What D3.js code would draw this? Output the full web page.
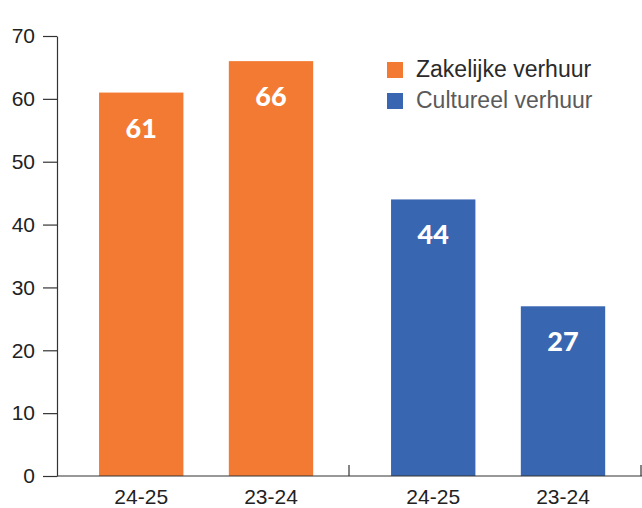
<!DOCTYPE html>
<html>
<head>
<meta charset="utf-8">
<script src="https://cdn.jsdelivr.net/npm/d3@7"></script>
<style>
  body { margin: 0; background: #fff; }
  text { font-family: "Liberation Sans", Arial, sans-serif; }
</style>
</head>
<body>
<div class="canva"></div>
<script>
const series = ["Zakelijke verhuur", "Cultureel verhuur"];
const periods = ["24-25", "23-24"];
const zakelijk = [61, 66];
const cultureel = [44, 27];
const colors = ["#F37A32", "#3966B1"];
const yTicks = [0, 10, 20, 30, 40, 50, 60, 70];

const values = [zakelijk, cultureel];

const svg = d3.select(".canva").append("svg")
              .attr("width", 642)
              .attr("height", 508);

const margin = {top: 36, right: 1, bottom: 32, left: 57};
const graphWidth = 642 - margin.left - margin.right;
const graphHeight = 508 - margin.top - margin.bottom;

const g = svg.append("g")
             .attr("transform", `translate(${margin.left},${margin.top})`);

const y = d3.scaleLinear()
            .domain([0, 70])
            .range([graphHeight, 0]);

const xGroup = d3.scaleBand()
                 .domain(series)
                 .range([0, graphWidth])
                 .padding(0);

const xInner = d3.scaleBand()
                 .domain(periods)
                 .range([0, xGroup.bandwidth()])
                 .paddingInner(0.35)
                 .paddingOuter(0.3)
                 .align(0.54);

// bars
series.forEach((s, si) => {
  const grp = g.append("g").attr("transform", `translate(${xGroup(s)},0)`);
  grp.selectAll("rect")
     .data(values[si])
     .enter()
     .append("rect")
     .attr("x", (d, i) => xInner(periods[i]))
     .attr("y", d => y(d))
     .attr("width", xInner.bandwidth())
     .attr("height", d => graphHeight - y(d))
     .attr("fill", colors[si]);

  grp.selectAll(".val")
     .data(values[si])
     .enter()
     .append("text")
     .attr("class", "val")
     .attr("x", (d, i) => xInner(periods[i]) + xInner.bandwidth() / 2)
     .attr("y", d => y(d) + 45)
     .attr("text-anchor", "middle")
     .style("font-family", "Lato, sans-serif")
     .style("font-weight", 900)
     .style("font-size", "27px")
     .attr("fill", "#fff")
     .text(d => d);

  grp.selectAll(".cat")
     .data(periods)
     .enter()
     .append("text")
     .attr("class", "cat")
     .attr("x", d => xInner(d) + xInner.bandwidth() / 2)
     .attr("y", graphHeight + 28)
     .attr("text-anchor", "middle")
     .style("font-size", "21px")
     .attr("fill", "#222")
     .text(d => d);
});

// y axis
const yAxis = d3.axisLeft(y)
                .tickValues(yTicks)
                .tickSize(14)
                .tickSizeOuter(0)
                .tickPadding(8);
const yg = g.append("g").call(yAxis);
yg.select(".domain").attr("stroke", "#333").attr("stroke-width", 1.2);
yg.selectAll(".tick line").attr("stroke", "#333").attr("stroke-width", 1.2);
yg.selectAll(".tick text")
  .style("font-family", "'Liberation Sans', Arial, sans-serif")
  .style("font-size", "21px")
  .attr("fill", "#222");

// x axis
const xg = g.append("g").attr("transform", `translate(0,${graphHeight})`);
xg.append("line")
  .attr("x1", 0).attr("x2", graphWidth + 1)
  .attr("y1", 0).attr("y2", 0)
  .attr("stroke", "#333").attr("stroke-width", 1.2);
xg.selectAll(".sep")
  .data(series)
  .enter()
  .append("line")
  .attr("class", "sep")
  .attr("x1", d => xGroup(d) + xGroup.bandwidth())
  .attr("x2", d => xGroup(d) + xGroup.bandwidth())
  .attr("y1", 0).attr("y2", -11)
  .attr("stroke", "#333").attr("stroke-width", 1.2);

// legend
const legend = svg.append("g").attr("transform", "translate(387,62)");
const item = legend.selectAll("g")
                   .data(series)
                   .enter()
                   .append("g")
                   .attr("transform", (d, i) => `translate(0,${i * 31})`);
item.append("rect")
    .attr("width", 16).attr("height", 16)
    .attr("fill", (d, i) => colors[i]);
item.append("text")
    .attr("x", 29).attr("y", 15)
    .style("font-size", "23px")
    .attr("fill", (d, i) => i === 0 ? "#2a2a2a" : "#5a5a5a")
    .text(d => d);
</script>
</body>
</html>
